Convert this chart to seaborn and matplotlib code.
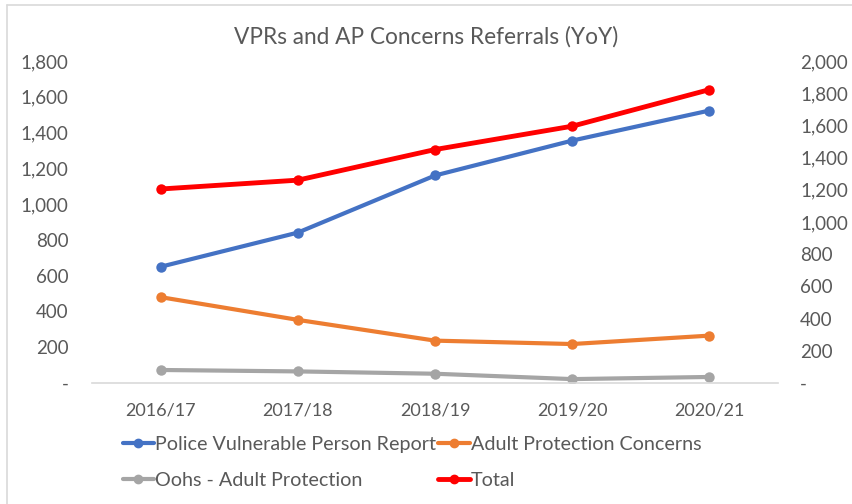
import matplotlib
matplotlib.use("Agg")
import matplotlib.pyplot as plt
import matplotlib.ticker as mticker
from matplotlib.lines import Line2D
import seaborn as sns
import pandas as pd

# values
years = ['2016/17', '2017/18', '2018/19', '2019/20', '2020/21']
police_vpr = [650, 841, 1160, 1355, 1523]
adult_protection = [480, 353, 237, 218, 265]
oohs_adult = [73, 65, 52, 22, 34]
total = [1205, 1260, 1450, 1595, 1822]

df = pd.DataFrame({
    'Year': years * 3,
    'Value': police_vpr + adult_protection + oohs_adult,
    'Series': (['Police Vulnerable Person Report'] * 5
               + ['Adult Protection Concerns'] * 5
               + ['Oohs - Adult Protection'] * 5),
})
df_total = pd.DataFrame({'Year': years, 'Value': total})

sns.set_theme(style='white')
plt.rcParams['font.family'] = ['Lato', 'DejaVu Sans']

grey_txt = '#595959'
colors = {'Police Vulnerable Person Report': '#4472C4',
          'Adult Protection Concerns': '#ED7D31',
          'Oohs - Adult Protection': '#A5A5A5'}

fig = plt.figure(figsize=(8.53, 5.04), dpi=100)
ax = fig.add_axes([0.108, 0.24, 0.804, 0.639])
ax2 = ax.twinx()

sns.lineplot(data=df, x='Year', y='Value', hue='Series', palette=colors,
             marker='o', markersize=7.5, markeredgewidth=0, linewidth=3,
             sort=False, legend=False, ax=ax)
sns.lineplot(data=df_total, x='Year', y='Value', color='#FF0000',
             marker='o', markersize=7.5, markeredgewidth=0, linewidth=3.5,
             sort=False, ax=ax2)

ax.set_xlim(-0.5, 4.5)
ax.set_ylim(0, 1800)
ax2.set_ylim(0, 2000)
ax.set_yticks(range(0, 1801, 200))
ax2.set_yticks(range(0, 2001, 200))

def fmt(v, pos):
    return '-' if v == 0 else f'{int(v):,}'

for a in (ax, ax2):
    a.yaxis.set_major_formatter(mticker.FuncFormatter(fmt))
    a.set_xlabel('')
    a.set_ylabel('')
    for s in a.spines.values():
        s.set_visible(False)
    a.tick_params(length=0, labelsize=13.5, colors=grey_txt)

ax.spines['bottom'].set_visible(True)
ax.spines['bottom'].set_color('#D9D9D9')
ax.spines['bottom'].set_linewidth(1.2)
ax.tick_params(axis='y', pad=17)
ax2.tick_params(axis='y', pad=16)
ax.tick_params(axis='x', pad=14)
ax.tick_params(axis='x', labelsize=13)

fig.text(0.5, 0.927, 'VPRs and AP Concerns Referrals (YoY)', ha='center',
         va='center', fontsize=16.3, color=grey_txt)

# legend below the plot
handles = [Line2D([], [], color=colors['Police Vulnerable Person Report'], lw=3, marker='o', ms=6),
           Line2D([], [], color=colors['Oohs - Adult Protection'], lw=3, marker='o', ms=6),
           Line2D([], [], color=colors['Adult Protection Concerns'], lw=3, marker='o', ms=6),
           Line2D([], [], color='#FF0000', lw=3.5, marker='o', ms=6)]
labels = ['Police Vulnerable Person Report', 'Oohs - Adult Protection',
          'Adult Protection Concerns', 'Total']
fig.legend(handles, labels, ncol=2, loc='center', bbox_to_anchor=(0.483, 0.082),
           frameon=False, fontsize=14.2, labelcolor=grey_txt, handlelength=1.6,
           handletextpad=0.05, columnspacing=0.1, labelspacing=0.95)

# chart border (left and top edges visible in the reference)
fig.add_artist(Line2D([7 / 853, 7 / 853], [0, 1 - 5 / 504], color='#D9D9D9', lw=1.2))
fig.add_artist(Line2D([7 / 853, 1], [1 - 5 / 504, 1 - 5 / 504], color='#D9D9D9', lw=1.2))

fig.savefig('out.png', dpi=100)
